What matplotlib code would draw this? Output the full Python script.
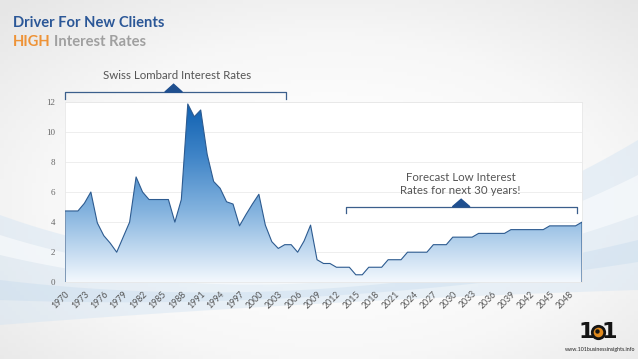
import numpy as np
import matplotlib
matplotlib.use("Agg")
import matplotlib.pyplot as plt
from matplotlib.colors import LinearSegmentedColormap
from matplotlib.patches import PathPatch, Polygon

# ---------- data ----------
years = list(range(1970, 2051))
rates = [4.74, 4.74, 4.74, 5.25, 6.0, 3.95, 3.1, 2.6, 2.0, 3.0,
         4.0, 7.0, 6.0, 5.5, 5.5, 5.5, 5.5, 4.0, 5.5, 11.85,
         11.0, 11.45, 8.5, 6.7, 6.25, 5.35, 5.2, 3.75, 4.5, 5.2,
         5.85, 3.8, 2.7, 2.25, 2.5, 2.5, 2.0, 2.75, 3.8, 1.5,
         1.25, 1.25, 1.0, 1.0, 1.0, 0.5, 0.5, 1.0, 1.0, 1.0,
         1.5, 1.5, 1.5, 2.0, 2.0, 2.0, 2.0, 2.5, 2.5, 2.5,
         3.0, 3.0, 3.0, 3.0, 3.25, 3.25, 3.25, 3.25, 3.25, 3.5,
         3.5, 3.5, 3.5, 3.5, 3.5, 3.75, 3.75, 3.75, 3.75, 3.75,
         4.0]
xticks = list(range(1970, 2049, 3))
yticks = [0, 2, 4, 6, 8, 10, 12]
hist_span = (1970, 2004.2)
fcst_span = (2013.5, 2049.2)

SANS = ["Lato", "DejaVu Sans"]
BLUE = "#2b5797"
LINE = "#2d5b90"

fig = plt.figure(figsize=(6.38, 3.59), dpi=100)

# ---------- background ----------
bg = fig.add_axes([0, 0, 1, 1], zorder=-5)
bg.set_xlim(0, 638); bg.set_ylim(359, 0); bg.axis("off")
gx, gy = np.meshgrid(np.linspace(0, 638, 160), np.linspace(0, 359, 90))
d = np.hypot((gx - 330) / 638, (gy - 200) / 359)
bgcm = LinearSegmentedColormap.from_list("bg", ["#ffffff", "#f7f7f7", "#e6e6e6"])
bg.imshow(d, extent=[0, 638, 359, 0], cmap=bgcm, vmin=0.15, vmax=0.75, aspect="auto")
xs = np.linspace(0, 638, 200)
def quad(p0, p1, p2):
    t = xs / 638
    return (1 - t) ** 2 * p0 + 2 * (1 - t) * t * p1 + t ** 2 * p2
bg.fill_between(xs, quad(215, 330, 140), quad(325, 300, 290), color="#d3e4f3", alpha=0.45, lw=0)
bg.fill_between(xs, quad(235, 335, 175), quad(255, 330, 215), color="#ffffff", alpha=0.5, lw=0)
bg.fill_between(xs, quad(280, 318, 240), quad(300, 312, 262), color="#bcd5ec", alpha=0.3, lw=0)

# ---------- chart ----------
ax = fig.add_axes([65 / 638, 1 - 282.3 / 359, 517 / 638, 180.6 / 359])
ax.set_facecolor("white")
ax.set_xlim(1970, 2050)
ax.set_ylim(0, 12)
for s in ax.spines.values():
    s.set_color("#e8e8e8"); s.set_linewidth(0.6)
ax.set_yticks(yticks)
ax.grid(axis="y", color="#ebebeb", lw=0.6, zorder=0)
ax.set_axisbelow(True)

poly = ax.fill_between(years, rates, 0, color="none", lw=0)
patch = PathPatch(poly.get_paths()[0], transform=ax.transData, facecolor="none", edgecolor="none")
ax.add_patch(patch)
grad = np.linspace(0, 1, 256).reshape(-1, 1)
cm = LinearSegmentedColormap.from_list(
    "fill", [(0, "#f3f8fd"), (0.15, "#c9def2"), (0.4, "#82b2de"), (0.7, "#3f84c7"), (1, "#0d5fb0")])
img = ax.imshow(grad, extent=[1970, 2050, 0, 12], origin="lower", aspect="auto", cmap=cm, zorder=2)
img.set_clip_path(patch)
ax.plot([years[0]] + years + [years[-1]], [0] + rates + [0], color=LINE, lw=0.8, zorder=3)

ax.set_xticks(xticks)
ax.set_xticklabels([str(y) for y in xticks], rotation=45, ha="right", va="top",
                   rotation_mode="anchor", fontsize=6.3, color="#555", family=SANS)
ax.set_yticklabels([str(y) for y in yticks], fontsize=6.5, color="#666", family="Liberation Serif")
ax.tick_params(length=0)
ax.tick_params(axis="x", pad=5)
ax.tick_params(axis="y", pad=7)

# brackets
def bracket(span, y, drop, tri_x, tri_h):
    ax.plot([span[0], span[0], span[1], span[1]], [y - drop, y, y, y - drop],
            color="#3b5f8c", lw=0.9, clip_on=False, zorder=4)
    ax.add_patch(Polygon([[tri_x - 1.35, y], [tri_x, y + tri_h], [tri_x + 1.35, y]],
                         closed=True, color="#1f4f8f", clip_on=False, zorder=4))

bracket(hist_span, 12.64, 0.45, 1986.8, 0.52)
bracket(fcst_span, 5.02, 0.4, 2031.3, 0.5)
ax.text(1987.3, 13.77, "Swiss Lombard Interest Rates", ha="center", va="center",
        fontsize=8.3, color="#555", family=SANS)
ax.text(2031.2, 6.55, "Forecast Low Interest\nRates for next 30 years!", ha="center", va="center",
        fontsize=8.3, color="#555", family=SANS, linespacing=1.25)

# ---------- titles ----------
fig.text(13 / 638, 1 - 27.3 / 359, "Driver For New Clients", fontsize=10.6, fontweight="bold",
         color=BLUE, family=SANS, va="baseline")
t1 = fig.text(13 / 638, 1 - 46 / 359, "HIGH", fontsize=10.6, fontweight="bold",
              color="#ee9337", family=SANS, va="baseline")
fig.canvas.draw()
bb = t1.get_window_extent()
fig.text((bb.x1 + 3) / 638, 1 - 46 / 359, "Interest Rates", fontsize=10.6, fontweight="bold",
         color="#a0a0a0", family=SANS, va="baseline")

# ---------- logo ----------
fig.text(586 / 638, 1 - 331.5 / 359, "1", fontsize=16, fontweight="bold", color="#151515",
         family="DejaVu Sans", ha="center", va="center")
fig.text(609 / 638, 1 - 331.5 / 359, "1", fontsize=16, fontweight="bold", color="#151515",
         family="DejaVu Sans", ha="center", va="center")
lg = fig.add_axes([0, 0, 1, 1], zorder=5)
lg.set_xlim(0, 638); lg.set_ylim(359, 0); lg.axis("off")
lg.scatter([597.5], [331.5], s=80, facecolor="#e08a1e", edgecolor="#151515", linewidths=2.0)
lg.scatter([597.5], [331.5], s=10, facecolor="#151515", edgecolor="none")
fig.text(600 / 638, 1 - 349 / 359, "www.101businessinsights.info", fontsize=3.8, color="#222",
         family=SANS, ha="center", va="center")

fig.savefig("out.png", dpi=100)
